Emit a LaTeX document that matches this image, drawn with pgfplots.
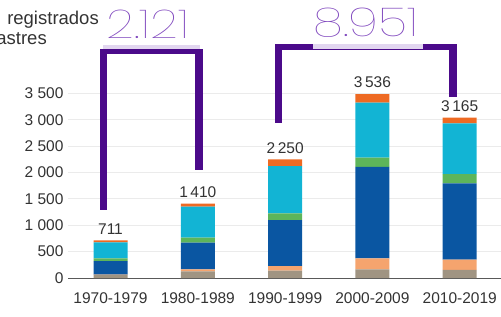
\documentclass[border=0pt]{standalone}
\usepackage{pgfplots}
\pgfplotsset{compat=1.18}
\usepackage{pgfplotstable}
\usepackage{fontspec}
\setmainfont{Liberation Sans}
\newfontfamily\thinfont{Poppins Thin}[FakeStretch=1.22]
\definecolor{cgrey}{HTML}{A09482}
\definecolor{cpeach}{HTML}{F5A46E}
\definecolor{cblue}{HTML}{0A56A2}
\definecolor{cgreen}{HTML}{5DB55A}
\definecolor{ccyan}{HTML}{12B4D4}
\definecolor{corange}{HTML}{EE6A23}
\definecolor{bracket}{HTML}{4B0A8A}
\definecolor{numpurple}{HTML}{8048BE}
\definecolor{lav}{HTML}{E2D6F0}
\definecolor{txt}{HTML}{333333}
\pgfplotstableread{
x grey peach blue green cyan orange
0 60 5 257 51 303 35
1 126 38 505 95 587 59
2 138 89 871 127 896 129
3 164 209 1735 171 1042 164
4 152 195 1446 177 960 107
}\data
\begin{document}
\begin{tikzpicture}
\clip (0,0) rectangle (501bp,317bp);
\begin{axis}[
  at={(68bp,39bp)}, anchor=south west,
  scale only axis, width=433bp, height=184.7bp,
  xmin=-0.487, xmax=4.473, ymin=0, ymax=3500,
  ybar stacked, bar width=34bp,
  axis line style={draw=none},
  tick style={draw=none}, major tick length=0pt,
  ytick={0,500,...,3500},
  xtick={0,...,4},
  xticklabels={1970-1979,1980-1989,1990-1999,2000-2009,2010-2019},
  ymajorgrids, grid style={draw=black!8, line width=0.7bp},
  tick label style={font=\fontsize{15.5bp}{18bp}\selectfont, text=txt},
  /pgf/number format/assume math mode=true,
  /pgf/number format/1000 sep={\hspace{0.28em}},
  yticklabel style={xshift=-1bp},
  xticklabel style={yshift=-11bp},
  clip=false,
]
\addplot[fill=cgrey, draw=none] table[x=x, y=grey] {\data};
\addplot[fill=cpeach, draw=none] table[x=x, y=peach] {\data};
\addplot[fill=cblue, draw=none] table[x=x, y=blue] {\data};
\addplot[fill=cgreen, draw=none] table[x=x, y=green] {\data};
\addplot[fill=ccyan, draw=none] table[x=x, y=cyan] {\data};
\addplot[fill=corange, draw=none] table[x=x, y=orange] {\data};
\draw[black!65, line width=0.9bp] (axis cs:-0.487,0) -- (axis cs:4.473,0);
\path[font=\fontsize{15.5bp}{18bp}\selectfont, text=txt]
  (axis cs:0,711) node[anchor=base, yshift=6bp] {711}
  (axis cs:1,1410) node[anchor=base, yshift=6bp] {1\,410}
  (axis cs:2,2250) node[anchor=base, yshift=6bp] {2\,250}
  (axis cs:3,3487) node[anchor=base, yshift=6bp] {3\,536}
  (axis cs:4,3037) node[anchor=base, yshift=6bp] {3\,165};
\end{axis}
% brackets
\fill[bracket] (100bp,107bp) rectangle (107bp,268bp);
\fill[bracket] (100bp,263bp) rectangle (203bp,268bp);
\fill[bracket] (195bp,147bp) rectangle (203bp,268bp);
\fill[lav] (103bp,268bp) rectangle (200bp,272bp);
\fill[bracket] (275bp,194bp) rectangle (282bp,273bp);
\fill[bracket] (275bp,267bp) rectangle (457bp,273bp);
\fill[bracket] (449bp,220bp) rectangle (457bp,273bp);
\fill[lav] (313bp,268bp) rectangle (423bp,273bp);
\node[text=numpurple, font=\thinfont\fontsize{40bp}{40bp}\selectfont, inner sep=0pt] at (148bp,292.5bp) {2.121};
\node[text=numpurple, font=\thinfont\fontsize{40bp}{40bp}\selectfont, inner sep=0pt] at (366bp,294bp) {8.951};
% title
\node[anchor=base east, text=txt, font=\fontsize{18.5bp}{20bp}\selectfont, inner sep=0pt] at (99bp,292bp) {De\hspace{0.45em}registrados};
\node[anchor=base east, text=txt, font=\fontsize{18.5bp}{20bp}\selectfont, inner sep=0pt] at (47bp,272bp) {de desastres};
\end{tikzpicture}
\end{document}
